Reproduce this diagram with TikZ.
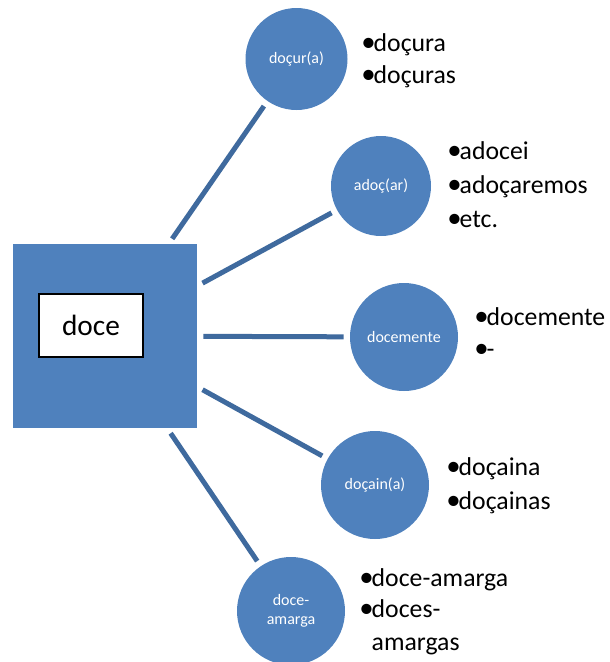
\documentclass[tikz,border=0pt]{standalone}
\usepackage{fontspec}
\usepackage{graphicx}
\setmainfont{Carlito}
\definecolor{accent}{HTML}{4F81BD}
\definecolor{linkc}{HTML}{3F6A9E}
\newcommand\bulmark{\makebox[8.6pt][l]{\hspace*{-0.6pt}\raisebox{-0.5pt}{\scalebox{1.12}{•}}}}
\begin{document}
\begin{tikzpicture}[x=0.75pt,y=-0.75pt,
  hub/.style={fill=accent, minimum size=138pt, inner sep=0pt, draw=none},
  word/.style={draw=black, line width=1.1pt, fill=white, minimum width=78pt, minimum height=47.25pt, inner sep=0pt, font=\fontsize{22}{26}\selectfont},
  stem/.style={circle, fill=accent, inner sep=0pt, text=white, font=\fontsize{12}{14.6}\selectfont, align=center},
  link/.style={draw=linkc, line width=3.75pt, shorten <=4.5pt, shorten >=4.5pt},
  item/.style={anchor=base west, inner sep=0pt, font=\fontsize{19.3}{23}\selectfont}
]
\useasboundingbox (0,0) rectangle (610,662);
\node[hub] (hub) at (105,336) {};
\node[word] (root) at (91,325.5) {doce};

\node[stem, minimum size=76.5pt] (c1) at (296.5,59) {doçur(a)};
\node[stem, minimum size=75pt] (c2) at (381,186) {adoç(ar)};
\node[stem, minimum size=81pt] (c3) at (404,337) {docemente};
\node[stem, minimum size=81pt] (c4) at (375,485) {doçain(a)};
\node[stem, minimum size=81pt] (c5) at (291,611) {doce-\\amarga};

\draw[link] (hub) -- (c1);
\draw[link] (hub) -- (c2);
\draw[link] (hub) -- (c3);
\draw[link] (hub) -- (c4);
\draw[link] (hub) -- (c5);

\node[item] (i1a) at (362,51) {\bulmark doçura};
\node[item] (i1b) at (362,83) {\bulmark doçuras};
\node[item] (i2a) at (448,159) {\bulmark adocei};
\node[item] (i2b) at (448,193) {\bulmark adoçaremos};
\node[item] (i2c) at (448,227) {\bulmark etc.};
\node[item] (i3a) at (475,325) {\bulmark docemente};
\node[item] (i3b) at (475,357) {\bulmark -};
\node[item] (i4a) at (447,475) {\bulmark doçaina};
\node[item] (i4b) at (447,509) {\bulmark doçainas};
\node[item] (i5a) at (360,586) {\bulmark doce-amarga};
\node[item] (i5b) at (360,617) {\bulmark doces-};
\node[item] (i5c) at (360,650) {\hspace*{8.6pt}amargas};
\end{tikzpicture}
\end{document}
